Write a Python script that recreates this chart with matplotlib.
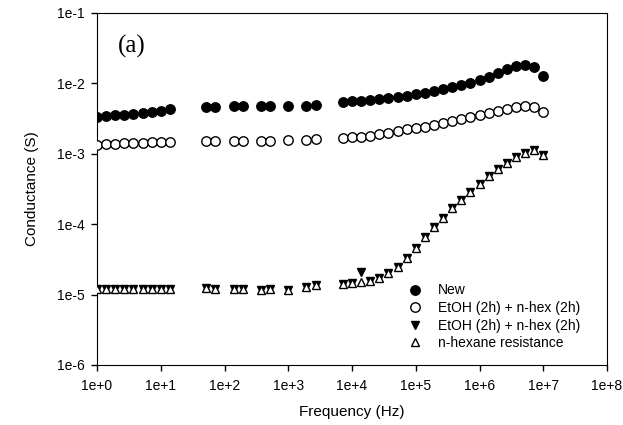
import matplotlib
matplotlib.use("Agg")
import matplotlib.pyplot as plt
from matplotlib.ticker import FixedLocator, FixedFormatter, NullLocator

plt.rcParams['font.family'] = ['Liberation Sans', 'DejaVu Sans']

# frequency points (Hz), same for all series
freq = [1, 1.389, 1.931, 2.683, 3.728, 5.179, 7.197, 10, 13.89,
        51.79, 71.97, 138.9, 193.1, 372.8, 517.9, 1000, 1931, 2683,
        7197, 10000, 13895, 19307, 26827, 37276, 51795, 71969, 100000,
        138950, 193070, 268270, 372760, 517950, 719690, 1.0e6, 1.3895e6,
        1.9307e6, 2.6827e6, 3.7276e6, 5.1795e6, 7.1969e6, 1.0e7]

g_new = [3.3e-3, 3.4e-3, 3.5e-3, 3.6e-3, 3.7e-3, 3.85e-3, 3.95e-3, 4.1e-3, 4.3e-3,
         4.6e-3, 4.65e-3, 4.7e-3, 4.7e-3, 4.75e-3, 4.75e-3, 4.8e-3, 4.85e-3, 4.9e-3,
         5.5e-3, 5.62e-3, 5.67e-3, 5.81e-3, 5.94e-3, 6.14e-3, 6.35e-3, 6.62e-3, 7.0e-3,
         7.38e-3, 7.87e-3, 8.24e-3, 8.81e-3, 9.48e-3, 1.02e-2, 1.12e-2, 1.25e-2,
         1.42e-2, 1.60e-2, 1.77e-2, 1.82e-2, 1.69e-2, 1.27e-2]

g_etoh = [1.35e-3, 1.38e-3, 1.4e-3, 1.42e-3, 1.43e-3, 1.44e-3, 1.45e-3, 1.46e-3, 1.47e-3,
          1.5e-3, 1.5e-3, 1.52e-3, 1.52e-3, 1.53e-3, 1.53e-3, 1.55e-3, 1.58e-3, 1.61e-3,
          1.66e-3, 1.71e-3, 1.75e-3, 1.81e-3, 1.91e-3, 2.0e-3, 2.11e-3, 2.23e-3, 2.33e-3,
          2.43e-3, 2.54e-3, 2.71e-3, 2.90e-3, 3.15e-3, 3.37e-3, 3.56e-3, 3.76e-3,
          4.02e-3, 4.29e-3, 4.58e-3, 4.78e-3, 4.58e-3, 3.96e-3]

g_etoh2 = [1.22e-5, 1.21e-5, 1.22e-5, 1.2e-5, 1.22e-5, 1.21e-5, 1.2e-5, 1.21e-5, 1.22e-5,
           1.23e-5, 1.21e-5, 1.2e-5, 1.21e-5, 1.18e-5, 1.19e-5, 1.17e-5, 1.3e-5, 1.35e-5,
           1.42e-5, 1.46e-5, 2.11e-5, 1.57e-5, 1.70e-5, 2.01e-5, 2.49e-5, 3.28e-5, 4.55e-5,
           6.52e-5, 9.03e-5, 1.24e-4, 1.68e-4, 2.21e-4, 2.90e-4, 3.72e-4, 4.84e-4,
           6.08e-4, 7.48e-4, 9.10e-4, 1.04e-3, 1.13e-3, 9.62e-4]

g_hex = [1.22e-5, 1.21e-5, 1.22e-5, 1.2e-5, 1.22e-5, 1.21e-5, 1.2e-5, 1.21e-5, 1.22e-5,
         1.23e-5, 1.21e-5, 1.2e-5, 1.21e-5, 1.18e-5, 1.19e-5, 1.17e-5, 1.3e-5, 1.35e-5,
         1.42e-5, 1.46e-5, 1.5e-5, 1.57e-5, 1.70e-5, 2.01e-5, 2.49e-5, 3.28e-5, 4.55e-5,
         6.52e-5, 9.03e-5, 1.24e-4, 1.68e-4, 2.21e-4, 2.90e-4, 3.72e-4, 4.84e-4,
         6.08e-4, 7.48e-4, 9.10e-4, 1.04e-3, 1.13e-3, 9.62e-4]

labels = ["New", "EtOH (2h) + n-hex (2h)", "EtOH (2h) + n-hex (2h)", "n-hexane resistance"]
xticks = [1e0, 1e1, 1e2, 1e3, 1e4, 1e5, 1e6, 1e7, 1e8]
xtick_labels = ["1e+0", "1e+1", "1e+2", "1e+3", "1e+4", "1e+5", "1e+6", "1e+7", "1e+8"]
yticks = [1e-6, 1e-5, 1e-4, 1e-3, 1e-2, 1e-1]
ytick_labels = ["1e-6", "1e-5", "1e-4", "1e-3", "1e-2", "1e-1"]

fig = plt.figure(figsize=(6.23, 4.25), dpi=100)
ax = fig.add_axes([97/623, 60/425, 510/623, 352/425])

l1, = ax.plot(freq, g_new, 'o', ms=6.8, mfc='black', mec='black', mew=1, label=labels[0], zorder=4)
l2, = ax.plot(freq, g_etoh, 'o', ms=6.8, mfc='white', mec='black', mew=1, label=labels[1], zorder=4)
l3, = ax.plot(freq, g_etoh2, 'v', ms=5.5, mfc='black', mec='black', mew=1, label=labels[2], zorder=2)
l4, = ax.plot(freq, g_hex, '^', ms=5.5, mfc='white', mec='black', mew=1, label=labels[3], zorder=3)

ax.set_xscale('log')
ax.set_yscale('log')
ax.set_xlim(1e0, 1e8)
ax.set_ylim(1e-6, 1e-1)
ax.xaxis.set_major_locator(FixedLocator(xticks))
ax.xaxis.set_major_formatter(FixedFormatter(xtick_labels))
ax.yaxis.set_major_locator(FixedLocator(yticks))
ax.yaxis.set_major_formatter(FixedFormatter(ytick_labels))
ax.xaxis.set_minor_locator(NullLocator())
ax.yaxis.set_minor_locator(NullLocator())
ax.tick_params(axis='both', direction='out', length=4, width=1, labelsize=10, top=False, right=False)
ax.tick_params(axis='y', pad=5)
ax.tick_params(axis='x', pad=6)

ax.set_xlabel("Frequency (Hz)", fontsize=11, labelpad=9)
ax.set_ylabel("Conductance (S)", fontsize=11, labelpad=13)

ax.text(0.04, 0.905, "(a)", transform=ax.transAxes, fontsize=18,
        family='Liberation Serif', ha='left', va='center')

ax.legend(handles=[l1, l2, l3, l4], loc='upper left', bbox_to_anchor=(408/623, 0.333),
          bbox_transform=fig.transFigure, frameon=False, fontsize=10, handlelength=1,
          handletextpad=1.15, borderpad=0, borderaxespad=0, labelspacing=0.26)

plt.savefig("out.png", dpi=100)
